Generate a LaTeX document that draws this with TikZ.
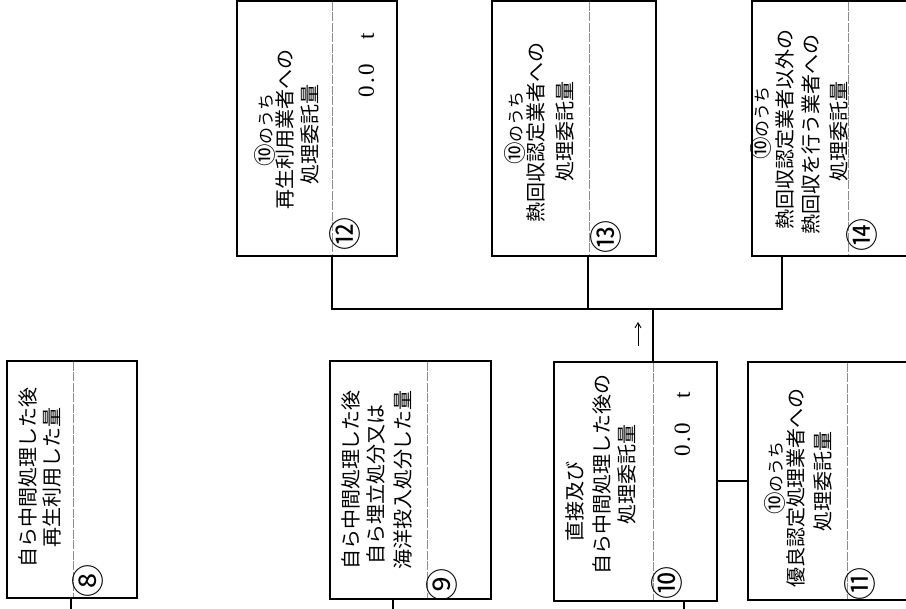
\documentclass[tikz,border=0pt]{standalone}
\usepackage{fontspec}
\setmainfont{Liberation Serif}
\newfontfamily\jp{Noto Sans CJK JP}
\usetikzlibrary{arrows.meta}
\newcommand\hwc[1]{\makebox[11pt]{#1}}
\newcommand\bigcn[1]{\raisebox{-0.8pt}{\fontsize{22.5}{22.5}\selectfont #1}}
\begin{document}
\begin{tikzpicture}[x=1pt,y=-1pt,
  box/.style 2 args={draw=black,line width=2pt,rectangle,inner sep=0pt,minimum width=#1,minimum height=#2},
  conn/.style={draw=black,line width=2pt},
  divl/.style={draw=black!45,line width=0.7pt,dash pattern=on 9pt off 1.5pt},
  jpl/.style={font=\jp\fontsize{20}{21}\selectfont,rotate=90,inner sep=0pt,text height=17.6pt,text depth=2.4pt},
  jps/.style={font=\jp\fontsize{17}{17}\selectfont,rotate=90,inner sep=0pt,text height=15pt,text depth=2pt},
  cnum/.style={font=\jp\fontsize{33}{33}\selectfont,rotate=90,inner sep=0pt,text height=29pt,text depth=4pt},
  val/.style={font=\fontsize{23}{23}\selectfont,rotate=90,inner sep=0pt,text height=15.5pt,text depth=0pt},
  arr/.style={draw=black,line width=0.9pt,-{Straight Barb[length=5pt,width=6pt]}}]
\useasboundingbox (0,0) rectangle (906,609);
\clip (0,0) rectangle (906,609);
% boxes
\node[box={130pt}{237pt}] (b8) at (72,479.5) {};
\node[box={161pt}{238pt}] (b9) at (410.5,480) {};
\node[box={163pt}{239pt}] (b10) at (635.5,481.5) {};
\node[box={212pt}{238pt}] (b11) at (854,481) {};
\node[box={160pt}{255pt}] (b12) at (317,128.5) {};
\node[box={164pt}{255pt}] (b13) at (574,128.5) {};
\node[box={208pt}{255pt}] (b14) at (856,128.5) {};
% dividers
\draw[divl] (73,362) -- (73,597);
\draw[divl] (427,362) -- (427,598);
\draw[divl] (653,363) -- (653,600);
\draw[divl] (847,363) -- (847,599);
\draw[divl] (332,2) -- (332,255);
\draw[divl] (589,2) -- (589,255);
\draw[divl] (848,2) -- (848,255);
% connector points
\coordinate (e8) at (71,612);
\coordinate (e9) at (393,612);
\coordinate (e10) at (684,612);
\coordinate (bus12) at (332,309);
\coordinate (bus13) at (588,309);
\coordinate (bus10) at (653,309);
\coordinate (bus14) at (782,309);
\coordinate (a1) at (638,346);
\coordinate (a2) at (638,322);
% connectors
\draw[conn] (b8.south -| e8) -- (e8);
\draw[conn] (b9.south -| e9) -- (e9);
\draw[conn] (b10.south -| e10) -- (e10);
\draw[conn] (b10.east) -- (b10.east -| b11.west);
\draw[conn] (b12.south -| bus12) -- (bus12) -- (bus14) -- (b14.south -| bus14);
\draw[conn] (b13.south -| bus13) -- (bus13);
\draw[conn] (bus10) -- (b10.north -| bus10);
\draw[arr] (a1) -- (a2);
% box 8
\node[jpl] (t8a) at (28,478) {自ら中間処理した後};
\node[jpl] (t8b) at (52,478) {再生利用した量};
\node[cnum] (n8) at (88,581) {⑧};
% box 9
\node[jpl] (t9a) at (351,480) {自ら中間処理した後};
\node[jpl] (t9b) at (376,485) {自ら埋立処分又は};
\node[jpl] (t9c) at (403,480) {海洋投入処分した量};
\node[cnum] (n9) at (442,585) {⑨};
% box 10
\node[jpl] (t10a) at (575,502) {直接及び};
\node[jpl] (t10b) at (602,475) {自ら中間処理した後の};
\node[jpl] (t10c) at (627,475) {処理委託量};
\node[val] (v10) at (682,423) {\hwc{0}\hwc{.}\hwc{0}\hwc{}\hwc{}\hwc{t}};
\node[cnum] (n10) at (667,583) {⑩};
% box 11
\node[jps] (t11a) at (776,478) {\bigcn{⑩}のうち};
\node[jpl] (t11b) at (796,488) {優良認定処理業者への};
\node[jpl] (t11c) at (823,482) {処理委託量};
\node[cnum] (n11) at (860,584) {⑪};
% box 12
\node[jps] (t12a) at (266,130) {\bigcn{⑩}のうち};
\node[jpl] (t12b) at (285,130) {再生利用業者への};
\node[jpl] (t12c) at (310,135) {処理委託量};
\node[val] (v12) at (366,64) {\hwc{0}\hwc{.}\hwc{0}\hwc{}\hwc{}\hwc{t}};
\node[cnum] (n12) at (345,234) {⑫};
% box 13
\node[jps] (t13a) at (516,128) {\bigcn{⑩}のうち};
\node[jpl] (t13b) at (536,133) {熱回収認定業者への};
\node[jpl] (t13c) at (565,132) {処理委託量};
\node[cnum] (n13) at (606,237) {⑬};
% box 14
\node[jps] (t14a) at (762,123) {\bigcn{⑩}のうち};
\node[jpl] (t14b) at (785,130) {熱回収認定業者以外の};
\node[jpl] (t14c) at (811,135) {熱回収を行う業者への};
\node[jpl] (t14d) at (839,132) {処理委託量};
\node[cnum] (n14) at (862,235) {⑭};
\end{tikzpicture}
\end{document}
